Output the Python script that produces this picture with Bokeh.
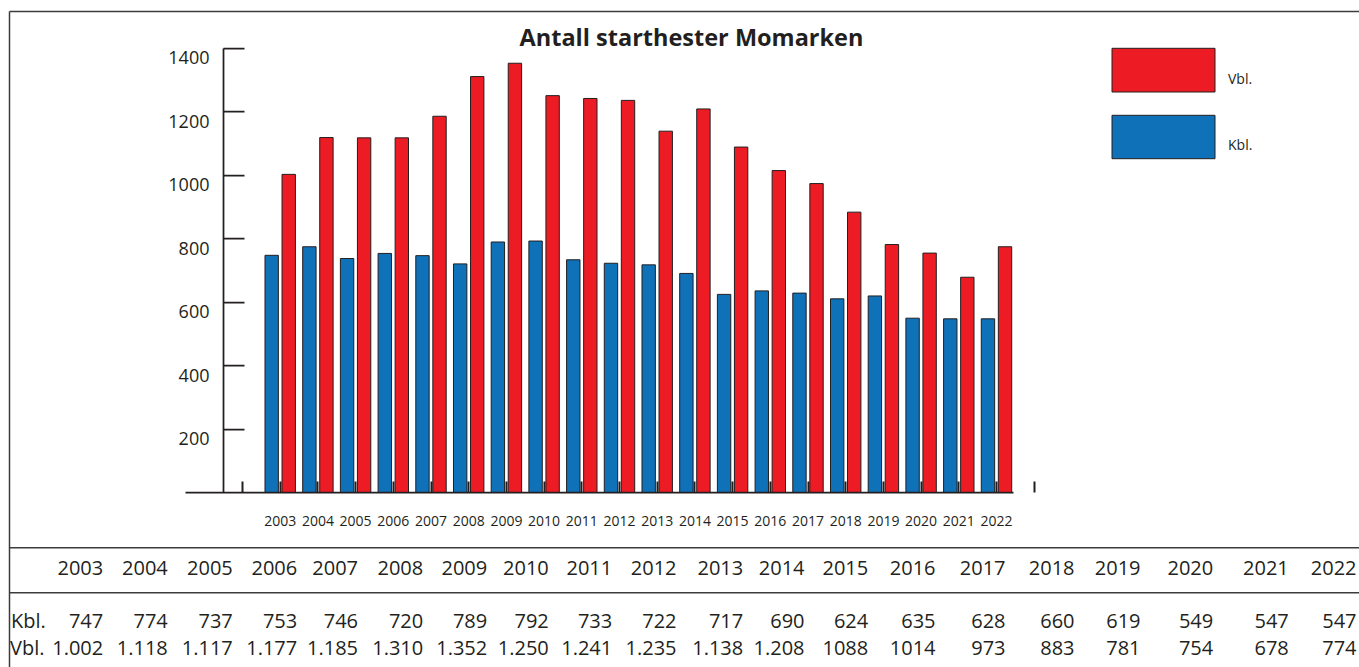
from bokeh.plotting import figure
from bokeh.models import Range1d, LinearAxis, FixedTicker, ColumnDataSource
from bokeh.transform import dodge
from bokeh.core.properties import value
from bokeh.embed import file_html
from bokeh.resources import INLINE

# ---------------- data ----------------
TITLE = "Antall starthester Momarken"
YEARS = [2003, 2004, 2005, 2006, 2007, 2008, 2009, 2010, 2011, 2012,
         2013, 2014, 2015, 2016, 2017, 2018, 2019, 2020, 2021, 2022]
# bar heights as drawn in the chart
KBL_BARS = [747, 774, 737, 753, 746, 720, 789, 792, 733, 722,
            717, 690, 624, 635, 628, 610, 619, 549, 547, 547]
VBL_BARS = [1002, 1118, 1117, 1117, 1185, 1310, 1352, 1250, 1241, 1235,
            1138, 1208, 1088, 1014, 973, 883, 781, 754, 678, 774]
Y_TICKS = [200, 400, 600, 800, 1000, 1200, 1400]
SERIES_LABELS = ["Vbl.", "Kbl."]
# table printed under the chart
TABLE_YEARS = [str(y) for y in YEARS]
TABLE_KBL = ["747", "774", "737", "753", "746", "720", "789", "792", "733", "722",
             "717", "690", "624", "635", "628", "660", "619", "549", "547", "547"]
TABLE_VBL = ["1.002", "1.118", "1.117", "1.177", "1.185", "1.310", "1.352", "1.250", "1.241", "1.235",
             "1.138", "1.208", "1088", "1014", "973", "883", "781", "754", "678", "774"]

# ---------------- style / layout (pixels) ----------------
DARK = "#231F20"
LINE = "#3C3C3C"
RED = "#ED1C24"
BLUE = "#0F71B8"
FONT = "Open Sans"

W, H = 1359, 667
GROUP_PX = 37.7          # px per year group
FIRST_GROUP_PX = 279.7   # x of first group centre
ZERO_PX = 492            # y of value 0
Y_PX = 0.3175            # px per unit
YAXIS_PX = 223
BASE_LEFT_PX = 185
BASE_RIGHT_PX = 1013
LABEL_SHIFT = 30         # y labels hang a little below their ticks
BASE_ADJ = 0.4           # text glyph baseline correction (em)

n = len(YEARS)
def xd(px):
    return (px - FIRST_GROUP_PX) / GROUP_PX

def base(y, size):
    return y - BASE_ADJ * size

p = figure(width=W, height=H,
           x_range=Range1d(xd(0), xd(W)),
           y_range=Range1d(-(H - ZERO_PX) / Y_PX, ZERO_PX / Y_PX),
           x_axis_type=None, y_axis_type=None, toolbar_location=None, output_backend="svg",
           title_location=None, min_border=0, outline_line_color=None,
           background_fill_color="white", border_fill_color="white")
p.extra_x_ranges = {"px": Range1d(0, W)}
p.extra_y_ranges = {"px": Range1d(H, 0)}

src = ColumnDataSource(dict(idx=list(range(n)), kbl=KBL_BARS, vbl=VBL_BARS))
blue = p.vbar(x=dodge("idx", -0.226, range=p.x_range), top="kbl", width=0.355, source=src,
              fill_color=BLUE, line_color=DARK, line_width=1)
red = p.vbar(x=dodge("idx", 0.226, range=p.x_range), top="vbl", width=0.355, source=src,
             fill_color=RED, line_color=DARK, line_width=1)

# y axis: line + inward ticks
ya = LinearAxis(ticker=FixedTicker(ticks=Y_TICKS), bounds=(0, Y_TICKS[-1]),
                fixed_location=xd(YAXIS_PX),
                major_tick_in=21, major_tick_out=0, minor_tick_line_color=None,
                axis_line_color=DARK, axis_line_width=1.75,
                major_tick_line_color=DARK, major_tick_line_width=1.75,
                major_label_overrides={t: "" for t in Y_TICKS}, major_label_standoff=0)
p.add_layout(ya, "left")
# y axis labels
shifted = [t - LABEL_SHIFT for t in Y_TICKS]
yl = LinearAxis(ticker=FixedTicker(ticks=shifted), fixed_location=xd(YAXIS_PX),
                major_label_overrides={s: str(t) for s, t in zip(shifted, Y_TICKS)},
                axis_line_color=None, major_tick_line_color=None, minor_tick_line_color=None,
                major_tick_in=0, major_tick_out=0, major_label_standoff=14,
                major_label_text_font=FONT, major_label_text_font_size="18px",
                major_label_text_color=DARK)
p.add_layout(yl, "left")

# x axis: baseline
xline = LinearAxis(ticker=FixedTicker(ticks=[]), fixed_location=0,
                   bounds=(xd(BASE_LEFT_PX), xd(BASE_RIGHT_PX)),
                   axis_line_color=DARK, axis_line_width=1.75,
                   major_tick_line_color=None, minor_tick_line_color=None,
                   major_label_text_font_size="0px")
p.add_layout(xline, "below")
# x axis: ticks and year labels
xticks = [-1] + list(range(n)) + [n]
overrides = {-1: "", n: ""}
overrides.update({i: str(y) for i, y in enumerate(YEARS)})
xa = LinearAxis(ticker=FixedTicker(ticks=xticks), fixed_location=0,
                axis_line_color=None,
                major_tick_in=11, major_tick_out=0, minor_tick_line_color=None,
                major_tick_line_color=DARK, major_tick_line_width=2,
                major_label_overrides=overrides, major_label_standoff=23,
                major_label_text_font=FONT, major_label_text_font_size="14px",
                major_label_text_color=DARK)
p.add_layout(xa, "below")

# legend: boxes and labels
LEG_LEFT, LEG_RIGHT = 1111.5, 1214.5
LEG_TOPS = [47.8, 114.8]
LEG_BOTTOMS = [91.5, 158.2]
LEG_LABEL_MID = [78.7, 145]
p.quad(left=[LEG_LEFT] * 2, right=[LEG_RIGHT] * 2, top=LEG_TOPS, bottom=LEG_BOTTOMS,
       fill_color=[RED, BLUE], line_color=DARK, line_width=1,
       x_range_name="px", y_range_name="px")
p.text(x=[1227.5] * 2, y=[base(m + 5, 14) for m in LEG_LABEL_MID], text=SERIES_LABELS,
       x_range_name="px", y_range_name="px", text_align="left", text_baseline="alphabetic",
       text_font=value(FONT), text_font_size="14px", text_color=DARK)

# title
p.text(x=[691], y=[base(46, 23.5)], text=[TITLE], x_range_name="px", y_range_name="px",
       text_align="center", text_baseline="alphabetic", text_font=value(FONT),
       text_font_style="bold", text_font_size="23.5px", text_color=DARK)

# frame / table lines
p.segment(x0=[9, 9, 9, 9], y0=[11, 11, 547.3, 592.3], x1=[W, 9, W, W], y1=[11, H, 547.3, 592.3],
          x_range_name="px", y_range_name="px", line_color=LINE, line_width=1.5)

# ---------------- table ----------------
COL_RIGHT = [102.7, 167.3, 232.3, 296.7, 357.5, 422.7, 486.7, 548.3, 611.7, 676,
             742.7, 804, 867.7, 935, 1005, 1074, 1140, 1212.7, 1288.3, 1356]
ROW_BASE = [575, 628.3, 655]
tstyle = dict(text_font=value(FONT), text_font_size="20px", text_color=DARK,
              text_baseline="alphabetic", x_range_name="px", y_range_name="px")
for row_text, b in zip([TABLE_YEARS, TABLE_KBL, TABLE_VBL], ROW_BASE):
    p.text(x=COL_RIGHT, y=[base(b, 20)] * n, text=row_text, text_align="right", **tstyle)
p.text(x=[10.5, 9.5], y=[base(b, 20) for b in ROW_BASE[1:]],
       text=[SERIES_LABELS[1], SERIES_LABELS[0]], text_align="left", **tstyle)

open("out.html", "w").write(file_html(p, INLINE))
